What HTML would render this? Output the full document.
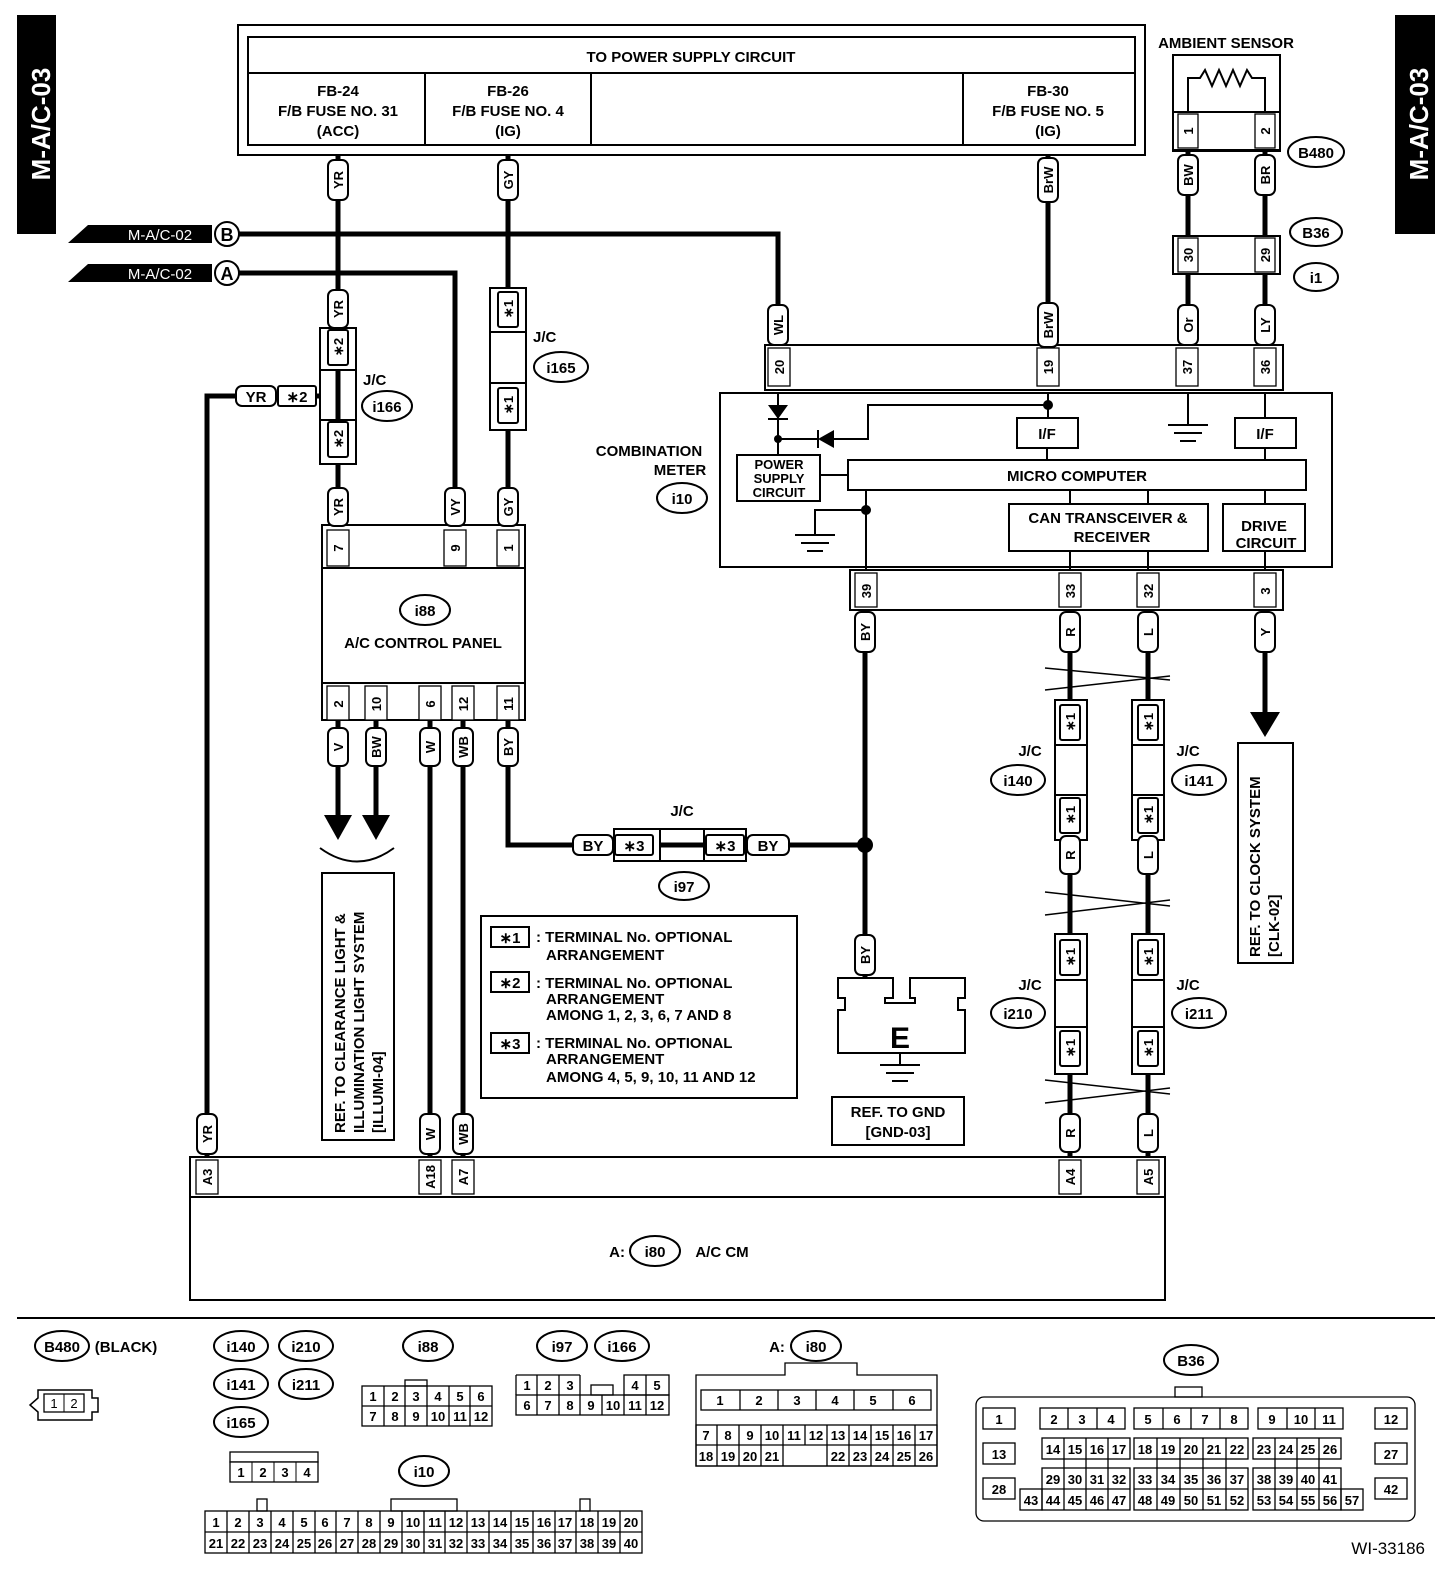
<!DOCTYPE html>
<html><head><style>
html,body{margin:0;padding:0;background:#fff}
svg{display:block}
text{font-family:"Liberation Sans",Arial,sans-serif;font-weight:bold;fill:#000}
.t{font-size:15px}
.s{font-size:13px}
.w{stroke:#000;stroke-width:5;fill:none}
.b{stroke:#000;stroke-width:2;fill:none}
.bf{stroke:#000;stroke-width:2;fill:#fff}
.g{stroke:#000;stroke-width:1.3;fill:#fff}
.gs{font-size:13px;font-weight:normal}
</style></head><body>
<svg width="1456" height="1580" viewBox="0 0 1456 1580" xmlns="http://www.w3.org/2000/svg">
<rect x="17" y="15" width="39" height="219" fill="#000"/>
<text transform="translate(50,124) rotate(-90)" text-anchor="middle" style="font-size:26px;fill:#fff">M-A/C-03</text>
<rect x="1395" y="15" width="40" height="219" fill="#000"/>
<text transform="translate(1428,124) rotate(-90)" text-anchor="middle" style="font-size:26px;fill:#fff">M-A/C-03</text>

<rect x="238" y="25" width="907" height="130" class="b"/>
<rect x="248" y="37" width="887" height="108" class="b"/>
<line x1="248" y1="73" x2="1135" y2="73" class="b"/>
<line x1="425" y1="73" x2="425" y2="145" class="b"/>
<line x1="591" y1="73" x2="591" y2="145" class="b"/>
<line x1="963" y1="73" x2="963" y2="145" class="b"/>
<text x="691" y="62" text-anchor="middle" class="t">TO POWER SUPPLY CIRCUIT</text>
<g class="t" text-anchor="middle">
<text x="338" y="96">FB-24</text><text x="338" y="116">F/B FUSE NO. 31</text><text x="338" y="136">(ACC)</text>
<text x="508" y="96">FB-26</text><text x="508" y="116">F/B FUSE NO. 4</text><text x="508" y="136">(IG)</text>
<text x="1048" y="96">FB-30</text><text x="1048" y="116">F/B FUSE NO. 5</text><text x="1048" y="136">(IG)</text>
</g>

<text x="1226" y="48" text-anchor="middle" class="t">AMBIENT SENSOR</text>
<rect x="1173" y="55" width="107" height="96" class="b"/>
<polyline points="1188,112 1188,78 1200,78 1205,70 1212,86 1219,70 1226,86 1233,70 1240,86 1247,70 1252,78 1265,78 1265,112" class="b"/>
<rect x="1173" y="112" width="107" height="38" class="bf"/>
<rect x="1178" y="114" width="20" height="34" class="g"/><rect x="1255" y="114" width="20" height="34" class="g"/>
<text transform="translate(1193,131) rotate(-90)" text-anchor="middle" class="s">1</text>
<text transform="translate(1270,131) rotate(-90)" text-anchor="middle" class="s">2</text>
<ellipse cx="1316" cy="152" rx="28" ry="15" class="b"/><text x="1316" y="158" text-anchor="middle" class="t">B480</text>
<line x1="1188" y1="150" x2="1188" y2="236" class="w"/><line x1="1265" y1="150" x2="1265" y2="236" class="w"/>
<rect x="1173" y="236" width="107" height="38" class="bf"/>
<rect x="1178" y="238" width="20" height="34" class="g"/><rect x="1255" y="238" width="20" height="34" class="g"/>
<text transform="translate(1193,255) rotate(-90)" text-anchor="middle" class="s">30</text>
<text transform="translate(1270,255) rotate(-90)" text-anchor="middle" class="s">29</text>
<ellipse cx="1316" cy="232" rx="26" ry="14" class="b"/><text x="1316" y="238" text-anchor="middle" class="t">B36</text>
<ellipse cx="1316" cy="277" rx="22" ry="14" class="b"/><text x="1316" y="283" text-anchor="middle" class="t">i1</text>
<line x1="1188" y1="274" x2="1188" y2="345" class="w"/><line x1="1265" y1="274" x2="1265" y2="345" class="w"/>

<polygon points="68,243 88,225 212,225 212,243" fill="#000"/>
<text x="160" y="240" text-anchor="middle" style="font-size:15px;fill:#fff;font-weight:normal">M-A/C-02</text>
<circle cx="227" cy="234" r="12" class="bf"/><text x="227" y="241" text-anchor="middle" style="font-size:18px">B</text>
<polygon points="68,282 88,264 212,264 212,282" fill="#000"/>
<text x="160" y="279" text-anchor="middle" style="font-size:15px;fill:#fff;font-weight:normal">M-A/C-02</text>
<circle cx="227" cy="273" r="12" class="bf"/><text x="227" y="280" text-anchor="middle" style="font-size:18px">A</text>
<polyline points="239,234 778,234 778,345" class="w"/>
<polyline points="239,273 455,273 455,525" class="w"/>

<line x1="338" y1="155" x2="338" y2="525" class="w"/>
<line x1="508" y1="155" x2="508" y2="525" class="w"/>
<line x1="1048" y1="155" x2="1048" y2="345" class="w"/>
<polyline points="338,396 207,396 207,1157" class="w"/>
<circle cx="338" cy="396" r="5" fill="#000"/>

<rect x="320" y="328" width="36" height="136" class="bf"/>
<line x1="320" y1="370" x2="356" y2="370" class="b"/><line x1="320" y1="420" x2="356" y2="420" class="b"/>
<line x1="338" y1="370" x2="338" y2="420" class="w"/>
<text x="363" y="385" class="t">J/C</text>
<ellipse cx="387" cy="406" rx="25" ry="15" class="b"/><text x="387" y="412" text-anchor="middle" class="t">i166</text>
<rect x="490" y="288" width="36" height="142" class="bf"/>
<line x1="490" y1="332" x2="526" y2="332" class="b"/><line x1="490" y1="383" x2="526" y2="383" class="b"/>
<text x="533" y="342" class="t">J/C</text>
<ellipse cx="561" cy="367" rx="27" ry="15" class="b"/><text x="561" y="373" text-anchor="middle" class="t">i165</text>

<rect x="322" y="525" width="203" height="195" class="b"/>
<line x1="322" y1="568" x2="525" y2="568" class="b"/>
<line x1="322" y1="683" x2="525" y2="683" class="b"/>
<rect x="327" y="530" width="22" height="36" class="g"/><rect x="444" y="530" width="22" height="36" class="g"/><rect x="497" y="530" width="22" height="36" class="g"/>
<ellipse cx="425" cy="610" rx="25" ry="15" class="b"/><text x="425" y="616" text-anchor="middle" class="t">i88</text>
<text x="423" y="648" text-anchor="middle" class="t">A/C CONTROL PANEL</text>
<g>
<rect x="327" y="686" width="22" height="34" class="g"/><rect x="365" y="686" width="22" height="34" class="g"/><rect x="419" y="686" width="22" height="34" class="g"/><rect x="452" y="686" width="22" height="34" class="g"/><rect x="497" y="686" width="22" height="34" class="g"/>
</g>
<g class="s" text-anchor="middle">
<text transform="translate(343,548) rotate(-90)">7</text><text transform="translate(460,548) rotate(-90)">9</text><text transform="translate(513,548) rotate(-90)">1</text>
<text transform="translate(343,704) rotate(-90)">2</text><text transform="translate(381,704) rotate(-90)">10</text><text transform="translate(435,704) rotate(-90)">6</text><text transform="translate(468,704) rotate(-90)">12</text><text transform="translate(513,704) rotate(-90)">11</text>
</g>
<line x1="338" y1="720" x2="338" y2="815" class="w"/><polygon points="324,815 352,815 338,840" fill="#000"/>
<line x1="376" y1="720" x2="376" y2="815" class="w"/><polygon points="362,815 390,815 376,840" fill="#000"/>
<path d="M320,848 Q357,875 394,848" class="b"/>
<line x1="430" y1="720" x2="430" y2="1157" class="w"/>
<line x1="463" y1="720" x2="463" y2="1157" class="w"/>
<polyline points="508,720 508,845 865,845" class="w"/>
<rect x="322" y="873" width="72" height="267" class="b"/>
<g class="t">
<text transform="translate(345,1133) rotate(-90)">REF. TO CLEARANCE LIGHT &amp;</text>
<text transform="translate(364,1133) rotate(-90)">ILLUMINATION LIGHT SYSTEM</text>
<text transform="translate(383,1133) rotate(-90)">[ILLUMI-04]</text>
</g>

<rect x="614" y="829" width="132" height="32" class="bf"/>
<line x1="660" y1="829" x2="660" y2="861" class="b"/><line x1="704" y1="829" x2="704" y2="861" class="b"/>
<line x1="660" y1="845" x2="704" y2="845" class="w"/>
<text x="682" y="816" text-anchor="middle" class="t">J/C</text>
<ellipse cx="684" cy="886" rx="25" ry="14" class="b"/><text x="684" y="892" text-anchor="middle" class="t">i97</text>

<text x="649" y="456" text-anchor="middle" class="t">COMBINATION</text>
<text x="680" y="475" text-anchor="middle" class="t">METER</text>
<ellipse cx="682" cy="498" rx="25" ry="15" class="b"/><text x="682" y="504" text-anchor="middle" class="t">i10</text>
<rect x="765" y="345" width="518" height="45" class="b"/>
<rect x="768" y="348" width="22" height="38" class="g"/><rect x="1037" y="348" width="22" height="38" class="g"/><rect x="1176" y="348" width="22" height="38" class="g"/><rect x="1254" y="348" width="22" height="38" class="g"/>
<g class="s" text-anchor="middle">
<text transform="translate(784,367) rotate(-90)">20</text><text transform="translate(1053,367) rotate(-90)">19</text><text transform="translate(1192,367) rotate(-90)">37</text><text transform="translate(1270,367) rotate(-90)">36</text>
</g>
<rect x="720" y="393" width="612" height="174" class="b"/>
<line x1="778" y1="393" x2="778" y2="455" class="b"/>
<polygon points="768,405 788,405 778,419" fill="#000"/><line x1="768" y1="419" x2="788" y2="419" class="b"/>
<circle cx="778" cy="439" r="4" fill="#000"/>
<line x1="778" y1="439" x2="818" y2="439" class="b"/>
<polygon points="834,430 834,448 818,439" fill="#000"/><line x1="818" y1="430" x2="818" y2="448" class="b"/>
<polyline points="834,439 868,439 868,405 1048,405" class="b"/>
<line x1="1048" y1="393" x2="1048" y2="418" class="b"/><circle cx="1048" cy="405" r="5" fill="#000"/>
<rect x="1017" y="418" width="61" height="30" class="b"/><text x="1047" y="439" text-anchor="middle" class="t">I/F</text>
<line x1="1188" y1="393" x2="1188" y2="425" class="b"/>
<line x1="1168" y1="425" x2="1208" y2="425" class="b"/><line x1="1174" y1="433" x2="1202" y2="433" class="b"/><line x1="1180" y1="441" x2="1196" y2="441" class="b"/>
<line x1="1265" y1="393" x2="1265" y2="418" class="b"/>
<rect x="1235" y="418" width="61" height="30" class="b"/><text x="1265" y="439" text-anchor="middle" class="t">I/F</text>
<line x1="1047" y1="448" x2="1047" y2="460" class="b"/><line x1="1265" y1="448" x2="1265" y2="460" class="b"/>
<rect x="737" y="455" width="83" height="46" class="b"/>
<text x="779" y="469" text-anchor="middle" class="s">POWER</text><text x="779" y="483" text-anchor="middle" class="s">SUPPLY</text><text x="779" y="497" text-anchor="middle" class="s">CIRCUIT</text>
<rect x="848" y="460" width="458" height="30" class="b"/><text x="1077" y="481" text-anchor="middle" class="t">MICRO COMPUTER</text>
<line x1="820" y1="475" x2="848" y2="475" class="b"/>
<line x1="866" y1="490" x2="866" y2="570" class="b"/><circle cx="866" cy="510" r="5" fill="#000"/>
<polyline points="866,510 815,510 815,535" class="b"/>
<line x1="795" y1="535" x2="835" y2="535" class="b"/><line x1="801" y1="543" x2="829" y2="543" class="b"/><line x1="807" y1="551" x2="823" y2="551" class="b"/>
<rect x="1009" y="504" width="199" height="47" class="b"/>
<text x="1108" y="523" text-anchor="middle" class="t">CAN TRANSCEIVER &amp;</text><text x="1112" y="542" text-anchor="middle" class="t">RECEIVER</text>
<line x1="1070" y1="490" x2="1070" y2="504" class="b"/><line x1="1148" y1="490" x2="1148" y2="504" class="b"/>
<line x1="1070" y1="551" x2="1070" y2="570" class="b"/><line x1="1148" y1="551" x2="1148" y2="570" class="b"/>
<rect x="1223" y="504" width="82" height="47" class="b"/>
<text x="1264" y="531" text-anchor="middle" class="t">DRIVE</text><text x="1266" y="548" text-anchor="middle" class="t">CIRCUIT</text>
<line x1="1265" y1="490" x2="1265" y2="504" class="b"/><line x1="1265" y1="551" x2="1265" y2="570" class="b"/>
<rect x="850" y="570" width="433" height="40" class="b"/>
<rect x="855" y="573" width="22" height="34" class="g"/><rect x="1059" y="573" width="22" height="34" class="g"/><rect x="1137" y="573" width="22" height="34" class="g"/><rect x="1254" y="573" width="22" height="34" class="g"/>
<g class="s" text-anchor="middle">
<text transform="translate(871,591) rotate(-90)">39</text><text transform="translate(1075,591) rotate(-90)">33</text><text transform="translate(1153,591) rotate(-90)">32</text><text transform="translate(1270,591) rotate(-90)">3</text>
</g>
<line x1="865" y1="610" x2="865" y2="978" class="w"/><circle cx="865" cy="845" r="8" fill="#000"/>
<line x1="1070" y1="610" x2="1070" y2="1157" class="w"/>
<line x1="1148" y1="610" x2="1148" y2="1157" class="w"/>
<line x1="1265" y1="610" x2="1265" y2="712" class="w"/><polygon points="1250,712 1280,712 1265,737" fill="#000"/>
<rect x="1238" y="743" width="55" height="220" class="b"/>
<text transform="translate(1260,957) rotate(-90)" class="t">REF. TO CLOCK SYSTEM</text>
<text transform="translate(1279,957) rotate(-90)" class="t">[CLK-02]</text>

<g class="b" style="stroke-width:1.5">
<path d="M1045,668 L1170,680 M1045,690 L1170,676"/>
<path d="M1045,892 L1170,906 M1045,915 L1170,900"/>
<path d="M1045,1080 L1170,1094 M1045,1103 L1170,1088"/>
</g>
<g>
<rect x="1055" y="700" width="32" height="140" class="bf"/><line x1="1055" y1="745" x2="1087" y2="745" class="b"/><line x1="1055" y1="795" x2="1087" y2="795" class="b"/>
<rect x="1132" y="700" width="32" height="140" class="bf"/><line x1="1132" y1="745" x2="1164" y2="745" class="b"/><line x1="1132" y1="795" x2="1164" y2="795" class="b"/>
<rect x="1055" y="934" width="32" height="140" class="bf"/><line x1="1055" y1="980" x2="1087" y2="980" class="b"/><line x1="1055" y1="1027" x2="1087" y2="1027" class="b"/>
<rect x="1132" y="934" width="32" height="140" class="bf"/><line x1="1132" y1="980" x2="1164" y2="980" class="b"/><line x1="1132" y1="1027" x2="1164" y2="1027" class="b"/>
</g>
<text x="1030" y="756" text-anchor="middle" class="t">J/C</text><ellipse cx="1018" cy="780" rx="27" ry="15" class="b"/><text x="1018" y="786" text-anchor="middle" class="t">i140</text>
<text x="1188" y="756" text-anchor="middle" class="t">J/C</text><ellipse cx="1199" cy="780" rx="27" ry="15" class="b"/><text x="1199" y="786" text-anchor="middle" class="t">i141</text>
<text x="1030" y="990" text-anchor="middle" class="t">J/C</text><ellipse cx="1018" cy="1013" rx="27" ry="15" class="b"/><text x="1018" y="1019" text-anchor="middle" class="t">i210</text>
<text x="1188" y="990" text-anchor="middle" class="t">J/C</text><ellipse cx="1199" cy="1013" rx="27" ry="15" class="b"/><text x="1199" y="1019" text-anchor="middle" class="t">i211</text>

<path d="M838,978 L893,978 L893,998 L885,998 L885,1003 L915,1003 L915,998 L910,998 L910,978 L965,978 L965,998 L958,998 L958,1010 L965,1010 L965,1053 L838,1053 L838,1010 L845,1010 L845,998 L838,998 Z" class="bf"/>
<text x="900" y="1048" text-anchor="middle" style="font-size:30px">E</text>
<line x1="900" y1="1053" x2="900" y2="1065" class="b"/>
<line x1="880" y1="1065" x2="920" y2="1065" class="b"/><line x1="886" y1="1073" x2="914" y2="1073" class="b"/><line x1="892" y1="1081" x2="908" y2="1081" class="b"/>
<rect x="832" y="1097" width="132" height="48" class="b"/>
<text x="898" y="1117" text-anchor="middle" class="t">REF. TO GND</text><text x="898" y="1137" text-anchor="middle" class="t">[GND-03]</text>

<rect x="481" y="916" width="316" height="182" class="b"/>
<g class="t">
<rect x="491" y="927" width="38" height="20" class="b"/><text x="510" y="943" text-anchor="middle">∗1</text>
<text x="536" y="942">: TERMINAL No. OPTIONAL</text><text x="546" y="960">ARRANGEMENT</text>
<rect x="491" y="972" width="38" height="20" class="b"/><text x="510" y="988" text-anchor="middle">∗2</text>
<text x="536" y="988">: TERMINAL No. OPTIONAL</text><text x="546" y="1004">ARRANGEMENT</text><text x="546" y="1020">AMONG 1, 2, 3, 6, 7 AND 8</text>
<rect x="491" y="1033" width="38" height="20" class="b"/><text x="510" y="1049" text-anchor="middle">∗3</text>
<text x="536" y="1048">: TERMINAL No. OPTIONAL</text><text x="546" y="1064">ARRANGEMENT</text><text x="546" y="1082">AMONG 4, 5, 9, 10, 11 AND 12</text>
</g>

<rect x="190" y="1157" width="975" height="143" class="b"/>
<line x1="190" y1="1197" x2="1165" y2="1197" class="b"/>
<rect x="196" y="1160" width="22" height="34" class="g"/><rect x="419" y="1160" width="22" height="34" class="g"/><rect x="452" y="1160" width="22" height="34" class="g"/><rect x="1059" y="1160" width="22" height="34" class="g"/><rect x="1137" y="1160" width="22" height="34" class="g"/>
<g class="s" text-anchor="middle">
<text transform="translate(212,1177) rotate(-90)">A3</text><text transform="translate(435,1177) rotate(-90)">A18</text><text transform="translate(468,1177) rotate(-90)">A7</text><text transform="translate(1075,1177) rotate(-90)">A4</text><text transform="translate(1153,1177) rotate(-90)">A5</text>
</g>
<text x="625" y="1257" text-anchor="end" class="t">A:</text>
<ellipse cx="655" cy="1251" rx="25" ry="15" class="b"/><text x="655" y="1257" text-anchor="middle" class="t">i80</text>
<text x="722" y="1257" text-anchor="middle" class="t">A/C CM</text>

<g class="s" text-anchor="middle">
<g class="bf">
<rect x="328" y="160" width="20" height="40" rx="6"/><rect x="498" y="160" width="20" height="40" rx="6"/><rect x="1038" y="158" width="20" height="44" rx="6"/>
<rect x="1178" y="155" width="20" height="40" rx="6"/><rect x="1255" y="155" width="20" height="40" rx="6"/>
<rect x="768" y="305" width="20" height="40" rx="6"/><rect x="1038" y="303" width="20" height="44" rx="6"/><rect x="1178" y="305" width="20" height="40" rx="6"/><rect x="1255" y="305" width="20" height="40" rx="6"/>
<rect x="328" y="290" width="20" height="38" rx="6"/><rect x="328" y="488" width="20" height="38" rx="6"/><rect x="445" y="488" width="20" height="38" rx="6"/><rect x="498" y="488" width="20" height="38" rx="6"/>
<rect x="328" y="728" width="20" height="38" rx="6"/><rect x="366" y="728" width="20" height="38" rx="6"/><rect x="420" y="728" width="20" height="38" rx="6"/><rect x="453" y="728" width="20" height="38" rx="6"/><rect x="498" y="728" width="20" height="38" rx="6"/>
<rect x="855" y="612" width="20" height="40" rx="6"/><rect x="1060" y="612" width="20" height="40" rx="6"/><rect x="1138" y="612" width="20" height="40" rx="6"/><rect x="1255" y="612" width="20" height="40" rx="6"/>
<rect x="1060" y="836" width="20" height="38" rx="6"/><rect x="1138" y="836" width="20" height="38" rx="6"/>
<rect x="1060" y="1114" width="20" height="38" rx="6"/><rect x="1138" y="1114" width="20" height="38" rx="6"/>
<rect x="855" y="935" width="20" height="40" rx="6"/>
<rect x="197" y="1114" width="20" height="40" rx="6"/><rect x="420" y="1114" width="20" height="40" rx="6"/><rect x="453" y="1114" width="20" height="40" rx="6"/>
<rect x="328" y="330" width="20" height="35" rx="2"/><rect x="328" y="422" width="20" height="35" rx="2"/>
<rect x="498" y="292" width="20" height="35" rx="2"/><rect x="498" y="388" width="20" height="35" rx="2"/>
<rect x="1060" y="705" width="20" height="35" rx="2"/><rect x="1138" y="705" width="20" height="35" rx="2"/><rect x="1060" y="798" width="20" height="35" rx="2"/><rect x="1138" y="798" width="20" height="35" rx="2"/>
<rect x="1060" y="940" width="20" height="35" rx="2"/><rect x="1138" y="940" width="20" height="35" rx="2"/><rect x="1060" y="1031" width="20" height="35" rx="2"/><rect x="1138" y="1031" width="20" height="35" rx="2"/>
</g>
<text transform="translate(343,180) rotate(-90)">YR</text><text transform="translate(513,180) rotate(-90)">GY</text><text transform="translate(1053,180) rotate(-90)">BrW</text>
<text transform="translate(1193,175) rotate(-90)">BW</text><text transform="translate(1270,175) rotate(-90)">BR</text>
<text transform="translate(783,325) rotate(-90)">WL</text><text transform="translate(1053,325) rotate(-90)">BrW</text><text transform="translate(1193,325) rotate(-90)">Or</text><text transform="translate(1270,325) rotate(-90)">LY</text>
<text transform="translate(343,309) rotate(-90)">YR</text><text transform="translate(343,507) rotate(-90)">YR</text><text transform="translate(460,507) rotate(-90)">VY</text><text transform="translate(513,507) rotate(-90)">GY</text>
<text transform="translate(343,747) rotate(-90)">V</text><text transform="translate(381,747) rotate(-90)">BW</text><text transform="translate(435,747) rotate(-90)">W</text><text transform="translate(468,747) rotate(-90)">WB</text><text transform="translate(513,747) rotate(-90)">BY</text>
<text transform="translate(870,632) rotate(-90)">BY</text><text transform="translate(1075,632) rotate(-90)">R</text><text transform="translate(1153,632) rotate(-90)">L</text><text transform="translate(1270,632) rotate(-90)">Y</text>
<text transform="translate(1075,855) rotate(-90)">R</text><text transform="translate(1153,855) rotate(-90)">L</text>
<text transform="translate(1075,1133) rotate(-90)">R</text><text transform="translate(1153,1133) rotate(-90)">L</text>
<text transform="translate(870,955) rotate(-90)">BY</text>
<text transform="translate(212,1134) rotate(-90)">YR</text><text transform="translate(435,1134) rotate(-90)">W</text><text transform="translate(468,1134) rotate(-90)">WB</text>
<text transform="translate(343,347) rotate(-90)">∗2</text><text transform="translate(343,439) rotate(-90)">∗2</text>
<text transform="translate(513,309) rotate(-90)">∗1</text><text transform="translate(513,405) rotate(-90)">∗1</text>
<text transform="translate(1075,722) rotate(-90)">∗1</text><text transform="translate(1153,722) rotate(-90)">∗1</text><text transform="translate(1075,815) rotate(-90)">∗1</text><text transform="translate(1153,815) rotate(-90)">∗1</text>
<text transform="translate(1075,957) rotate(-90)">∗1</text><text transform="translate(1153,957) rotate(-90)">∗1</text><text transform="translate(1075,1048) rotate(-90)">∗1</text><text transform="translate(1153,1048) rotate(-90)">∗1</text>
</g>
<g class="bf">
<rect x="236" y="386" width="40" height="20" rx="6"/><rect x="278" y="386" width="38" height="20" rx="2"/>
<rect x="573" y="835" width="40" height="20" rx="6"/><rect x="615" y="835" width="38" height="20" rx="2"/>
<rect x="706" y="835" width="38" height="20" rx="2"/><rect x="747" y="835" width="42" height="20" rx="6"/>
</g>
<g class="t" text-anchor="middle">
<text x="256" y="402">YR</text><text x="297" y="402">∗2</text>
<text x="593" y="851">BY</text><text x="634" y="851">∗3</text><text x="725" y="851">∗3</text><text x="768" y="851">BY</text>
</g>

<line x1="17" y1="1318" x2="1435" y2="1318" class="b"/>
<g class="t" text-anchor="middle">
<ellipse cx="62" cy="1346" rx="27" ry="15" class="b"/><text x="62" y="1352">B480</text><text x="126" y="1352">(BLACK)</text>
<ellipse cx="241" cy="1346" rx="27" ry="15" class="b"/><text x="241" y="1352">i140</text>
<ellipse cx="306" cy="1346" rx="27" ry="15" class="b"/><text x="306" y="1352">i210</text>
<ellipse cx="241" cy="1384" rx="27" ry="15" class="b"/><text x="241" y="1390">i141</text>
<ellipse cx="306" cy="1384" rx="27" ry="15" class="b"/><text x="306" y="1390">i211</text>
<ellipse cx="241" cy="1422" rx="27" ry="15" class="b"/><text x="241" y="1428">i165</text>
<ellipse cx="428" cy="1346" rx="25" ry="15" class="b"/><text x="428" y="1352">i88</text>
<ellipse cx="562" cy="1346" rx="25" ry="15" class="b"/><text x="562" y="1352">i97</text>
<ellipse cx="622" cy="1346" rx="27" ry="15" class="b"/><text x="622" y="1352">i166</text>
<text x="777" y="1352">A:</text><ellipse cx="816" cy="1346" rx="25" ry="15" class="b"/><text x="816" y="1352">i80</text>
<ellipse cx="1191" cy="1360" rx="27" ry="15" class="b"/><text x="1191" y="1366">B36</text>
<ellipse cx="424" cy="1471" rx="25" ry="15" class="b"/><text x="424" y="1477">i10</text>
</g>
<path d="M38,1390 L92,1390 L92,1398 L98,1398 L98,1412 L92,1412 L92,1420 L38,1420 L38,1412 L30,1405 L38,1398 Z" class="b" style="stroke-width:1.5"/>
<rect x="44" y="1394" width="40" height="18" class="g"/><line x1="64" y1="1394" x2="64" y2="1412" stroke="#000"/>
<text x="54" y="1408" text-anchor="middle" class="gs">1</text><text x="74" y="1408" text-anchor="middle" class="gs">2</text>
<rect x="230" y="1452" width="88" height="10" class="g"/>
<rect x="230" y="1462" width="88" height="20" class="g"/>
<g stroke="#000"><line x1="252" y1="1462" x2="252" y2="1482"/><line x1="274" y1="1462" x2="274" y2="1482"/><line x1="296" y1="1462" x2="296" y2="1482"/></g>
<g class="gs" text-anchor="middle"><text x="241" y="1477">1</text><text x="263" y="1477">2</text><text x="285" y="1477">3</text><text x="307" y="1477">4</text></g>

<g stroke="#000" fill="none" stroke-width="1.3">
<rect x="362" y="1386" width="130" height="40"/><line x1="362" y1="1406" x2="492" y2="1406"/>
<line x1="384" y1="1386" x2="384" y2="1426"/><line x1="405" y1="1386" x2="405" y2="1426"/><line x1="427" y1="1386" x2="427" y2="1426"/><line x1="449" y1="1386" x2="449" y2="1426"/><line x1="470" y1="1386" x2="470" y2="1426"/>
<rect x="405" y="1380" width="22" height="6"/>
</g>
<g class="gs" text-anchor="middle">
<text x="373" y="1401">1</text><text x="395" y="1401">2</text><text x="416" y="1401">3</text><text x="438" y="1401">4</text><text x="460" y="1401">5</text><text x="481" y="1401">6</text>
<text x="373" y="1421">7</text><text x="395" y="1421">8</text><text x="416" y="1421">9</text><text x="438" y="1421">10</text><text x="460" y="1421">11</text><text x="481" y="1421">12</text>
</g>
<g stroke="#000" fill="none" stroke-width="1.3">
<rect x="516" y="1395" width="153" height="20"/><line x1="516" y1="1375" x2="580" y2="1375"/><line x1="516" y1="1375" x2="516" y2="1395"/><line x1="580" y1="1375" x2="580" y2="1395"/>
<rect x="624" y="1375" width="45" height="20"/><rect x="591" y="1385" width="22" height="10"/>
<line x1="537" y1="1375" x2="537" y2="1415"/><line x1="559" y1="1375" x2="559" y2="1415"/><line x1="580" y1="1395" x2="580" y2="1415"/><line x1="602" y1="1395" x2="602" y2="1415"/><line x1="624" y1="1395" x2="624" y2="1415"/><line x1="646" y1="1375" x2="646" y2="1415"/>
</g>
<g class="gs" text-anchor="middle">
<text x="527" y="1390">1</text><text x="548" y="1390">2</text><text x="570" y="1390">3</text><text x="635" y="1390">4</text><text x="657" y="1390">5</text>
<text x="527" y="1410">6</text><text x="548" y="1410">7</text><text x="570" y="1410">8</text><text x="591" y="1410">9</text><text x="613" y="1410">10</text><text x="635" y="1410">11</text><text x="657" y="1410">12</text>
</g>
<g stroke="#000" fill="none" stroke-width="1.3">
<path d="M696,1375 L785,1375 L785,1363 L857,1363 L857,1375 L937,1375 L937,1466 L696,1466 Z"/>
<rect x="701" y="1390" width="230" height="20"/>
<line x1="740" y1="1390" x2="740" y2="1410"/><line x1="778" y1="1390" x2="778" y2="1410"/><line x1="816" y1="1390" x2="816" y2="1410"/><line x1="854" y1="1390" x2="854" y2="1410"/><line x1="893" y1="1390" x2="893" y2="1410"/>
<rect x="696" y="1425" width="241" height="41"/><line x1="696" y1="1445" x2="937" y2="1445"/>
<line x1="717" y1="1425" x2="717" y2="1466"/><line x1="739" y1="1425" x2="739" y2="1466"/><line x1="761" y1="1425" x2="761" y2="1466"/><line x1="783" y1="1425" x2="783" y2="1445"/><line x1="805" y1="1425" x2="805" y2="1445"/><line x1="827" y1="1425" x2="827" y2="1466"/><line x1="849" y1="1425" x2="849" y2="1466"/><line x1="871" y1="1425" x2="871" y2="1466"/><line x1="893" y1="1425" x2="893" y2="1466"/><line x1="915" y1="1425" x2="915" y2="1466"/>
<line x1="783" y1="1445" x2="783" y2="1466"/>
</g>
<g class="gs" text-anchor="middle">
<text x="720" y="1405">1</text><text x="759" y="1405">2</text><text x="797" y="1405">3</text><text x="835" y="1405">4</text><text x="873" y="1405">5</text><text x="912" y="1405">6</text>
<text x="706" y="1440">7</text><text x="728" y="1440">8</text><text x="750" y="1440">9</text><text x="772" y="1440">10</text><text x="794" y="1440">11</text><text x="816" y="1440">12</text><text x="838" y="1440">13</text><text x="860" y="1440">14</text><text x="882" y="1440">15</text><text x="904" y="1440">16</text><text x="926" y="1440">17</text>
<text x="706" y="1461">18</text><text x="728" y="1461">19</text><text x="750" y="1461">20</text><text x="772" y="1461">21</text><text x="838" y="1461">22</text><text x="860" y="1461">23</text><text x="882" y="1461">24</text><text x="904" y="1461">25</text><text x="926" y="1461">26</text>
</g>
<g stroke="#000" fill="none" stroke-width="1.3">
<rect x="205" y="1511" width="437" height="42"/><line x1="205" y1="1532" x2="642" y2="1532"/>
<rect x="391" y="1499" width="66" height="12"/><rect x="257" y="1499" width="10" height="12"/><rect x="580" y="1499" width="10" height="12"/>
</g>
<g stroke="#000" stroke-width="1.3">
<line x1="227" y1="1511" x2="227" y2="1553"/><line x1="249" y1="1511" x2="249" y2="1553"/><line x1="271" y1="1511" x2="271" y2="1553"/><line x1="293" y1="1511" x2="293" y2="1553"/><line x1="315" y1="1511" x2="315" y2="1553"/><line x1="336" y1="1511" x2="336" y2="1553"/><line x1="358" y1="1511" x2="358" y2="1553"/><line x1="380" y1="1511" x2="380" y2="1553"/><line x1="402" y1="1511" x2="402" y2="1553"/><line x1="424" y1="1511" x2="424" y2="1553"/><line x1="445" y1="1511" x2="445" y2="1553"/><line x1="467" y1="1511" x2="467" y2="1553"/><line x1="489" y1="1511" x2="489" y2="1553"/><line x1="511" y1="1511" x2="511" y2="1553"/><line x1="533" y1="1511" x2="533" y2="1553"/><line x1="555" y1="1511" x2="555" y2="1553"/><line x1="576" y1="1511" x2="576" y2="1553"/><line x1="598" y1="1511" x2="598" y2="1553"/><line x1="620" y1="1511" x2="620" y2="1553"/>
</g>
<g class="gs" text-anchor="middle">
<text x="216" y="1527">1</text><text x="238" y="1527">2</text><text x="260" y="1527">3</text><text x="282" y="1527">4</text><text x="304" y="1527">5</text><text x="325" y="1527">6</text><text x="347" y="1527">7</text><text x="369" y="1527">8</text><text x="391" y="1527">9</text><text x="413" y="1527">10</text><text x="435" y="1527">11</text><text x="456" y="1527">12</text><text x="478" y="1527">13</text><text x="500" y="1527">14</text><text x="522" y="1527">15</text><text x="544" y="1527">16</text><text x="565" y="1527">17</text><text x="587" y="1527">18</text><text x="609" y="1527">19</text><text x="631" y="1527">20</text>
<text x="216" y="1548">21</text><text x="238" y="1548">22</text><text x="260" y="1548">23</text><text x="282" y="1548">24</text><text x="304" y="1548">25</text><text x="325" y="1548">26</text><text x="347" y="1548">27</text><text x="369" y="1548">28</text><text x="391" y="1548">29</text><text x="413" y="1548">30</text><text x="435" y="1548">31</text><text x="456" y="1548">32</text><text x="478" y="1548">33</text><text x="500" y="1548">34</text><text x="522" y="1548">35</text><text x="544" y="1548">36</text><text x="565" y="1548">37</text><text x="587" y="1548">38</text><text x="609" y="1548">39</text><text x="631" y="1548">40</text>
</g>
<g stroke="#000" fill="none" stroke-width="1.3">
<rect x="976" y="1397" width="439" height="124" rx="8"/>
<rect x="1175" y="1387" width="27" height="10"/>
<rect x="983" y="1408" width="32" height="21"/><rect x="1040" y="1408" width="85" height="21"/><rect x="1134" y="1408" width="114" height="21"/><rect x="1258" y="1408" width="85" height="21"/><rect x="1375" y="1408" width="32" height="21"/>
<rect x="983" y="1443" width="32" height="21"/><rect x="1042" y="1438" width="88" height="21"/><rect x="1134" y="1438" width="114" height="21"/><rect x="1253" y="1438" width="88" height="21"/><rect x="1375" y="1443" width="32" height="21"/>
<rect x="983" y="1478" width="32" height="21"/><rect x="1375" y="1478" width="32" height="21"/>
<rect x="1042" y="1468" width="88" height="42"/><rect x="1020" y="1489" width="22" height="21"/><rect x="1134" y="1468" width="114" height="42"/><rect x="1253" y="1468" width="88" height="42"/><rect x="1341" y="1489" width="22" height="21"/>
<line x1="1042" y1="1489" x2="1130" y2="1489"/><line x1="1134" y1="1489" x2="1248" y2="1489"/><line x1="1253" y1="1489" x2="1341" y2="1489"/>
</g>
<g stroke="#000" stroke-width="1.3">
<line x1="1068" y1="1408" x2="1068" y2="1429"/><line x1="1097" y1="1408" x2="1097" y2="1429"/>
<line x1="1163" y1="1408" x2="1163" y2="1429"/><line x1="1191" y1="1408" x2="1191" y2="1429"/><line x1="1220" y1="1408" x2="1220" y2="1429"/>
<line x1="1287" y1="1408" x2="1287" y2="1429"/><line x1="1315" y1="1408" x2="1315" y2="1429"/>
<line x1="1064" y1="1438" x2="1064" y2="1510"/><line x1="1086" y1="1438" x2="1086" y2="1510"/><line x1="1108" y1="1438" x2="1108" y2="1510"/>
<line x1="1157" y1="1438" x2="1157" y2="1510"/><line x1="1180" y1="1438" x2="1180" y2="1510"/><line x1="1203" y1="1438" x2="1203" y2="1510"/><line x1="1226" y1="1438" x2="1226" y2="1510"/>
<line x1="1275" y1="1438" x2="1275" y2="1510"/><line x1="1297" y1="1438" x2="1297" y2="1510"/><line x1="1319" y1="1438" x2="1319" y2="1510"/>
</g>
<g class="gs" text-anchor="middle">
<text x="999" y="1424">1</text><text x="1054" y="1424">2</text><text x="1082" y="1424">3</text><text x="1111" y="1424">4</text><text x="1148" y="1424">5</text><text x="1177" y="1424">6</text><text x="1205" y="1424">7</text><text x="1234" y="1424">8</text><text x="1272" y="1424">9</text><text x="1301" y="1424">10</text><text x="1329" y="1424">11</text><text x="1391" y="1424">12</text>
<text x="999" y="1459">13</text><text x="1053" y="1454">14</text><text x="1075" y="1454">15</text><text x="1097" y="1454">16</text><text x="1119" y="1454">17</text><text x="1145" y="1454">18</text><text x="1168" y="1454">19</text><text x="1191" y="1454">20</text><text x="1214" y="1454">21</text><text x="1237" y="1454">22</text><text x="1264" y="1454">23</text><text x="1286" y="1454">24</text><text x="1308" y="1454">25</text><text x="1330" y="1454">26</text><text x="1391" y="1459">27</text>
<text x="999" y="1494">28</text><text x="1053" y="1484">29</text><text x="1075" y="1484">30</text><text x="1097" y="1484">31</text><text x="1119" y="1484">32</text><text x="1145" y="1484">33</text><text x="1168" y="1484">34</text><text x="1191" y="1484">35</text><text x="1214" y="1484">36</text><text x="1237" y="1484">37</text><text x="1264" y="1484">38</text><text x="1286" y="1484">39</text><text x="1308" y="1484">40</text><text x="1330" y="1484">41</text><text x="1391" y="1494">42</text>
<text x="1031" y="1505">43</text><text x="1053" y="1505">44</text><text x="1075" y="1505">45</text><text x="1097" y="1505">46</text><text x="1119" y="1505">47</text><text x="1145" y="1505">48</text><text x="1168" y="1505">49</text><text x="1191" y="1505">50</text><text x="1214" y="1505">51</text><text x="1237" y="1505">52</text><text x="1264" y="1505">53</text><text x="1286" y="1505">54</text><text x="1308" y="1505">55</text><text x="1330" y="1505">56</text><text x="1352" y="1505">57</text>
</g>
<text x="1425" y="1554" text-anchor="end" style="font-size:17px;font-weight:normal">WI-33186</text>
</svg>
</body></html>
